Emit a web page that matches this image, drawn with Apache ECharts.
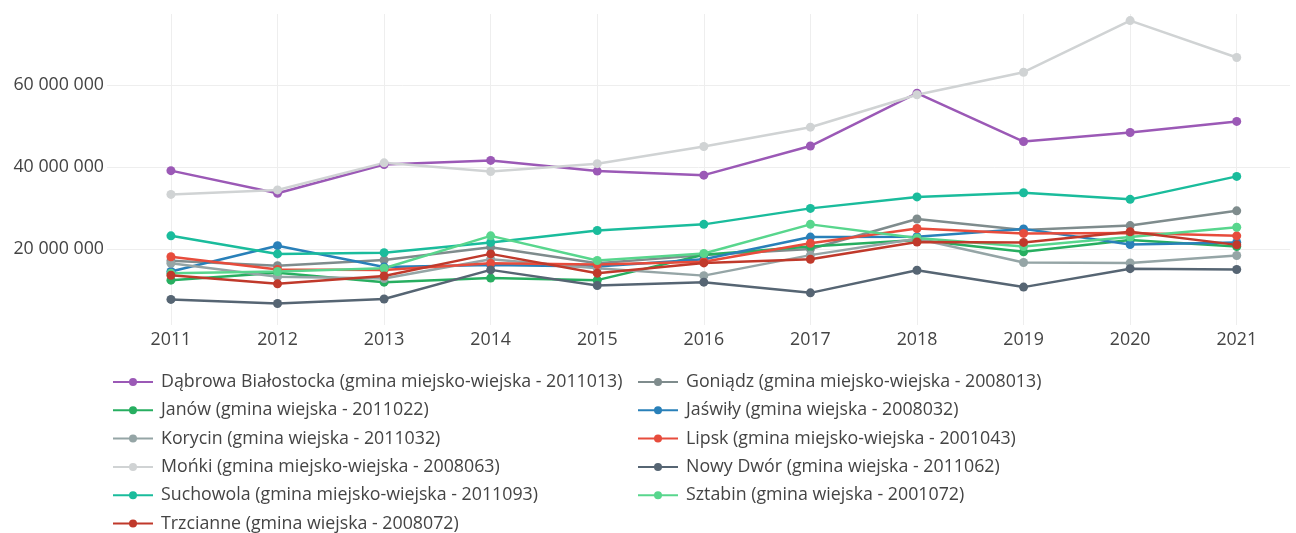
<!DOCTYPE html>
<html>
<head>
<meta charset="utf-8">
<script src="https://cdn.jsdelivr.net/npm/echarts@6/dist/echarts.min.js"></script>
<style>
html,body{margin:0;padding:0;background:#fff;}
#c{width:1296px;height:533px;}
</style>
</head>
<body>
<div id="c"></div>
<script>
const years = [2011, 2012, 2013, 2014, 2015, 2016, 2017, 2018, 2019, 2020, 2021];
const yTicks = [20000000, 40000000, 60000000];

const names = [
  'Dąbrowa Białostocka (gmina miejsko-wiejska - 2011013)',
  'Goniądz (gmina miejsko-wiejska - 2008013)',
  'Janów (gmina wiejska - 2011022)',
  'Jaświły (gmina wiejska - 2008032)',
  'Korycin (gmina wiejska - 2011032)',
  'Lipsk (gmina miejsko-wiejska - 2001043)',
  'Mońki (gmina miejsko-wiejska - 2008063)',
  'Nowy Dwór (gmina wiejska - 2011062)',
  'Suchowola (gmina miejsko-wiejska - 2011093)',
  'Sztabin (gmina wiejska - 2001072)',
  'Trzcianne (gmina wiejska - 2008072)'
];

const dabrowa   = [39100000, 33600000, 40600000, 41600000, 39000000, 38000000, 45100000, 58000000, 46200000, 48400000, 51100000];
const goniadz   = [17100000, 15900000, 17300000, 20400000, 16500000, 18500000, 20000000, 27300000, 24600000, 25700000, 29300000];
const janow     = [12400000, 14200000, 11900000, 12900000, 12400000, 18600000, 20600000, 22200000, 19300000, 22200000, 20600000];
const jaswily   = [14500000, 20800000, 15600000, 16100000, 15700000, 17500000, 22900000, 23000000, 24900000, 21100000, 21600000];
const korycin   = [16500000, 13200000, 12800000, 17500000, 15300000, 13500000, 18500000, 22500000, 16700000, 16600000, 18400000];
const lipsk     = [18100000, 15000000, 14900000, 16500000, 16200000, 16900000, 21400000, 25000000, 23800000, 23900000, 23200000];
const monki     = [33300000, 34400000, 41000000, 38900000, 40800000, 45000000, 49700000, 57600000, 63100000, 75700000, 66700000];
const nowyDwor  = [7700000, 6700000, 7800000, 14900000, 11100000, 11900000, 9300000, 14800000, 10700000, 15200000, 15000000];
const suchowola = [23200000, 18800000, 19100000, 21600000, 24500000, 26000000, 29900000, 32700000, 33700000, 32100000, 37700000];
const sztabin   = [14100000, 14500000, 15300000, 23200000, 17200000, 18900000, 26000000, 22700000, 20600000, 22900000, 25300000];
const trzcianne = [13600000, 11500000, 13400000, 18800000, 14100000, 16600000, 17500000, 21700000, 21600000, 24200000, 21000000];

const seriesValues = [dabrowa, goniadz, janow, jaswily, korycin, lipsk, monki, nowyDwor, suchowola, sztabin, trzcianne];
const colors = ['#9b59b6', '#7f8c8d', '#27ae60', '#2980b9', '#95a5a6', '#e74c3c', '#d0d3d4', '#566573', '#1abc9c', '#58d68d', '#c0392b'];

function fmt(v) {
  return String(Math.round(v)).replace(/\B(?=(\d{3})+(?!\d))/g, ' ');
}

const FONT = 'Open Sans';
const FS = 17.8;

const series = names.map((n, i) => ({
  name: n,
  type: 'line',
  data: years.map((y, j) => [y, seriesValues[i][j]]),
  symbol: 'circle',
  symbolSize: 9,
  lineStyle: { width: 2.5, color: colors[i] },
  itemStyle: { color: colors[i] },
  emphasis: { disabled: true },
  animation: false
}));

const leftNames = [names[0], names[2], names[4], names[6], names[8], names[10]];
const rightNames = [names[1], names[3], names[5], names[7], names[9]];

const legendCommon = {
  orient: 'vertical',
  top: 373,
  height: 160,
  padding: 0,
  itemWidth: 40,
  itemHeight: 10,
  itemGap: 10.3,
  textStyle: { fontFamily: FONT, fontSize: FS, lineHeight: 18, color: '#444', padding: [0, 0, 0, 3] },
  selectedMode: false
};

const chart = echarts.init(document.getElementById('c'), null, { renderer: 'canvas' });
chart.setOption({
  backgroundColor: '#fff',
  color: colors,
  animation: false,
  grid: { left: 107, right: 6, top: 14, height: 311, containLabel: false },
  xAxis: {
    type: 'value',
    min: 2010.4,
    max: 2021.5,
    axisLine: { show: false },
    axisTick: { show: false, customValues: years },
    axisLabel: { customValues: years, color: '#444', fontFamily: FONT, fontSize: FS, margin: 6, formatter: v => String(v) },
    splitLine: { show: true, lineStyle: { color: '#eeeeee', width: 1 } }
  },
  yAxis: {
    type: 'value',
    min: 1460000,
    max: 77300000,
    axisLine: { show: false },
    axisTick: { show: false, customValues: yTicks },
    axisLabel: { customValues: yTicks, color: '#444', fontFamily: FONT, fontSize: FS, margin: 3, formatter: v => fmt(v) },
    splitLine: { show: true, lineStyle: { color: '#eeeeee', width: 1 } }
  },
  legend: [
    Object.assign({}, legendCommon, { left: 112, data: leftNames }),
    Object.assign({}, legendCommon, { left: 637, data: rightNames })
  ],
  series: series
});
</script>
</body>
</html>
